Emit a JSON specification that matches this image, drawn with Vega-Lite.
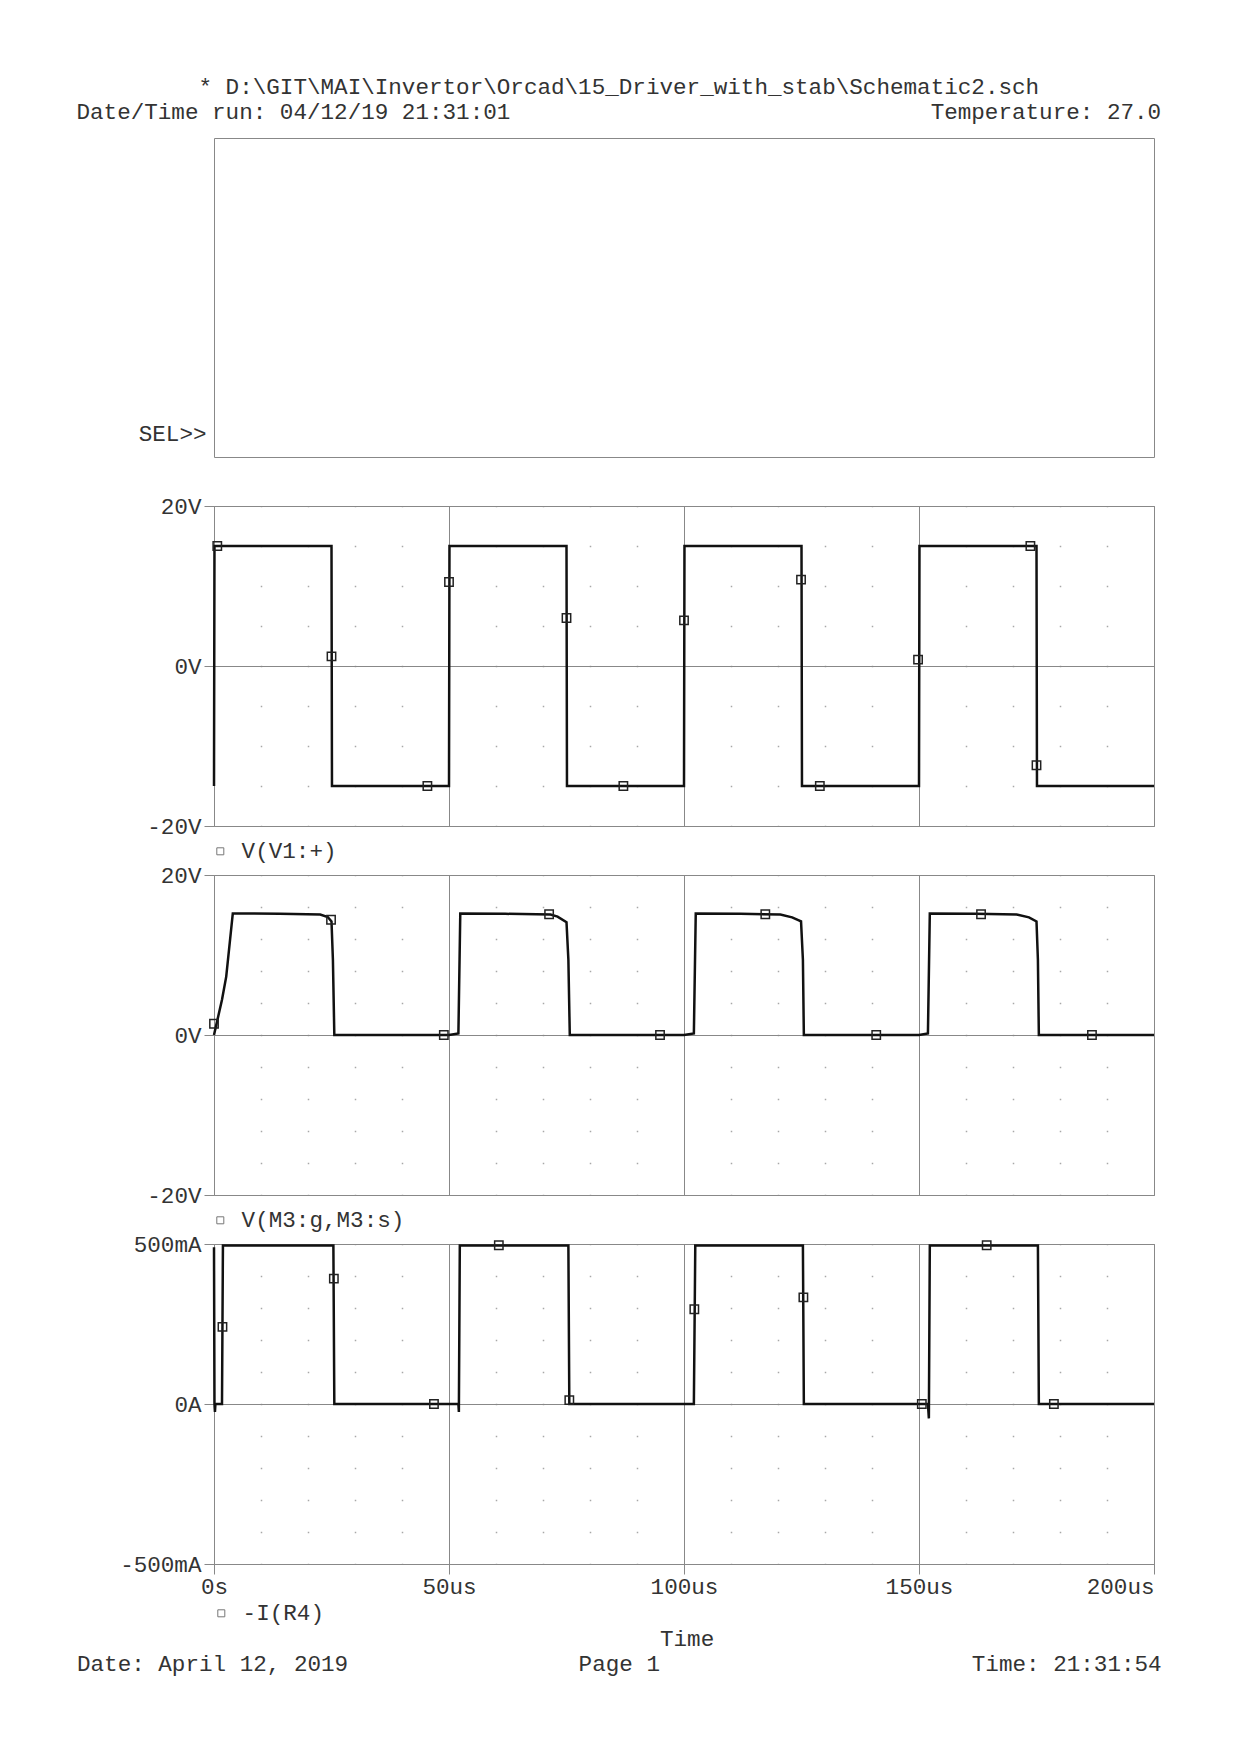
{
  "$schema": "https://vega.github.io/schema/vega-lite/v6.json",
  "background": "white",
  "padding": {"left": 75, "top": 75, "right": 40, "bottom": 40},
  "bounds": "flush",
  "spacing": 49,
  "title": {
    "text": [
      "* D:\\GIT\\MAI\\Invertor\\Orcad\\15_Driver_with_stab\\Schematic2.sch",
      "Date/Time run: 04/12/19 21:31:01\u00a0\u00a0\u00a0\u00a0\u00a0\u00a0\u00a0\u00a0\u00a0\u00a0\u00a0\u00a0\u00a0\u00a0\u00a0\u00a0\u00a0\u00a0\u00a0\u00a0\u00a0\u00a0\u00a0\u00a0\u00a0\u00a0\u00a0\u00a0\u00a0\u00a0\u00a0Temperature: 27.0"
    ],
    "anchor": "middle",
    "frame": "bounds",
    "offset": 14
  },
  "datasets": {
    "v1": [
      {"t": 0, "v": -15}, {"t": 0.1, "v": 15}, {"t": 25, "v": 15}, {"t": 25.1, "v": -15},
      {"t": 50, "v": -15}, {"t": 50.1, "v": 15}, {"t": 75, "v": 15}, {"t": 75.1, "v": -15},
      {"t": 100, "v": -15}, {"t": 100.1, "v": 15}, {"t": 125, "v": 15}, {"t": 125.1, "v": -15},
      {"t": 150, "v": -15}, {"t": 150.1, "v": 15}, {"t": 175, "v": 15}, {"t": 175.1, "v": -15},
      {"t": 200, "v": -15}
    ],
    "v1m": [
      {"signal": "V(V1:+)", "t": 0.7, "v": 15}, {"signal": "V(V1:+)", "t": 25, "v": 1.2},
      {"signal": "V(V1:+)", "t": 45.4, "v": -15}, {"signal": "V(V1:+)", "t": 50, "v": 10.5},
      {"signal": "V(V1:+)", "t": 75, "v": 6}, {"signal": "V(V1:+)", "t": 87.1, "v": -15},
      {"signal": "V(V1:+)", "t": 100, "v": 5.7}, {"signal": "V(V1:+)", "t": 124.9, "v": 10.8},
      {"signal": "V(V1:+)", "t": 128.9, "v": -15}, {"signal": "V(V1:+)", "t": 149.8, "v": 0.8},
      {"signal": "V(V1:+)", "t": 173.7, "v": 15}, {"signal": "V(V1:+)", "t": 175, "v": -12.4}
    ],
    "vgs": [
      {"t": 0, "v": 0}, {"t": 0.5, "v": 1.3}, {"t": 1.7, "v": 4.4}, {"t": 2.6, "v": 7.3}, {"t": 4, "v": 15.2},
      {"t": 14, "v": 15.15}, {"t": 22.6, "v": 15.05}, {"t": 24.2, "v": 14.75}, {"t": 25, "v": 14.2},
      {"t": 25.3, "v": 9.4}, {"t": 25.6, "v": 0}, {"t": 50, "v": 0}, {"t": 52, "v": 0.2},
      {"t": 52.4, "v": 15.2}, {"t": 62, "v": 15.15}, {"t": 71.6, "v": 15.05}, {"t": 73.1, "v": 14.8},
      {"t": 75, "v": 14.1}, {"t": 75.4, "v": 9.4}, {"t": 75.7, "v": 0}, {"t": 100, "v": 0},
      {"t": 102.1, "v": 0.2}, {"t": 102.5, "v": 15.2}, {"t": 112, "v": 15.15}, {"t": 120.5, "v": 15.05},
      {"t": 123, "v": 14.7}, {"t": 124.9, "v": 14.2}, {"t": 125.3, "v": 9.4}, {"t": 125.5, "v": 0},
      {"t": 150, "v": 0}, {"t": 151.9, "v": 0.2}, {"t": 152.3, "v": 15.2}, {"t": 162, "v": 15.15},
      {"t": 170.8, "v": 15.05}, {"t": 173.4, "v": 14.7}, {"t": 175, "v": 14.2}, {"t": 175.3, "v": 9.4},
      {"t": 175.5, "v": 0}, {"t": 200, "v": 0}
    ],
    "vgsm": [
      {"signal": "V(M3:g,M3:s)", "t": 0, "v": 1.4}, {"signal": "V(M3:g,M3:s)", "t": 24.9, "v": 14.4},
      {"signal": "V(M3:g,M3:s)", "t": 48.9, "v": 0}, {"signal": "V(M3:g,M3:s)", "t": 71.3, "v": 15.1},
      {"signal": "V(M3:g,M3:s)", "t": 94.9, "v": 0}, {"signal": "V(M3:g,M3:s)", "t": 117.3, "v": 15.1},
      {"signal": "V(M3:g,M3:s)", "t": 140.9, "v": 0}, {"signal": "V(M3:g,M3:s)", "t": 163.2, "v": 15.1},
      {"signal": "V(M3:g,M3:s)", "t": 186.8, "v": 0}
    ],
    "ir4": [
      {"t": 0, "v": 490}, {"t": 0.1, "v": 0}, {"t": 0.2, "v": -25}, {"t": 0.3, "v": 0}, {"t": 1.7, "v": 0},
      {"t": 1.9, "v": 495}, {"t": 25.4, "v": 495}, {"t": 25.6, "v": 0}, {"t": 52, "v": 0},
      {"t": 52.1, "v": -25}, {"t": 52.3, "v": 495}, {"t": 75.4, "v": 495}, {"t": 75.6, "v": 0},
      {"t": 102.1, "v": 0}, {"t": 102.4, "v": 495}, {"t": 125.3, "v": 495}, {"t": 125.5, "v": 0},
      {"t": 151.9, "v": 0}, {"t": 152.1, "v": -45}, {"t": 152.3, "v": 495}, {"t": 175.3, "v": 495},
      {"t": 175.5, "v": 0}, {"t": 200, "v": 0}
    ],
    "irm": [
      {"signal": "-I(R4)", "t": 1.8, "v": 241}, {"signal": "-I(R4)", "t": 25.5, "v": 392},
      {"signal": "-I(R4)", "t": 46.8, "v": 0}, {"signal": "-I(R4)", "t": 60.6, "v": 496},
      {"signal": "-I(R4)", "t": 75.6, "v": 12}, {"signal": "-I(R4)", "t": 102.2, "v": 296},
      {"signal": "-I(R4)", "t": 125.4, "v": 333}, {"signal": "-I(R4)", "t": 150.6, "v": 0},
      {"signal": "-I(R4)", "t": 164.4, "v": 496}, {"signal": "-I(R4)", "t": 178.7, "v": 0}
    ]
  },
  "resolve": {"scale": {"shape": "independent"}, "legend": {"shape": "independent"}},
  "vconcat": [
    {
      "width": 940,
      "height": 319,
      "data": {"values": []},
      "mark": {"type": "point", "opacity": 0},
      "encoding": {
        "x": {"field": "t", "type": "quantitative", "scale": {"domain": [0, 200], "nice": false}, "axis": null},
        "y": {"field": "v", "type": "quantitative", "scale": {"domain": [0, 1], "nice": false, "zero": false},
          "axis": {"values": [0.075], "labelExpr": "'SEL>>'", "ticks": false, "tickSize": 0, "grid": false, "labelPadding": 8, "title": null}}
      }
    },
    {
      "width": 940,
      "height": 320,
      "encoding": {
        "x": {"field": "t", "type": "quantitative", "scale": {"domain": [0, 200], "nice": false},
          "axis": {
            "values": [0, 10, 20, 30, 40, 50, 60, 70, 80, 90, 100, 110, 120, 130, 140, 150, 160, 170, 180, 190, 200],
            "labels": false, "ticks": false, "title": null, "grid": true,
            "gridColor": {"condition": {"test": "datum.value % 50 === 0", "value": "#888888"}, "value": "#a8a8a8"},
            "gridDash": {"condition": {"test": "datum.value % 50 === 0", "value": []}, "value": [1.5, 38.5]},
            "gridWidth": {"condition": {"test": "datum.value % 50 === 0", "value": 1}, "value": 1.5},
            "gridDashOffset": 0.75
          }},
        "y": {"field": "v", "type": "quantitative", "scale": {"domain": [-20, 20], "nice": false, "zero": false},
          "axis": {"values": [-20, 0, 20], "tickSize": 10, "labelPadding": 3, "labelExpr": "datum.value + 'V'", "title": null, "grid": true}}
      },
      "layer": [
        {"data": {"name": "v1"}, "mark": {"type": "line", "color": "#111111", "strokeWidth": 2.5}},
        {"data": {"name": "v1m"}, "mark": {"type": "point", "filled": false, "size": 70, "color": "#222222", "strokeWidth": 1.5, "opacity": 1},
          "encoding": {"shape": {"field": "signal", "type": "nominal", "scale": {"range": ["square"]},
            "legend": {"orient": "none", "legendX": -5, "legendY": 334, "title": null}}}}
      ]
    },
    {
      "width": 940,
      "height": 320,
      "encoding": {
        "x": {"field": "t", "type": "quantitative", "scale": {"domain": [0, 200], "nice": false},
          "axis": {
            "values": [0, 10, 20, 30, 40, 50, 60, 70, 80, 90, 100, 110, 120, 130, 140, 150, 160, 170, 180, 190, 200],
            "labels": false, "ticks": false, "title": null, "grid": true,
            "gridColor": {"condition": {"test": "datum.value % 50 === 0", "value": "#888888"}, "value": "#a8a8a8"},
            "gridDash": {"condition": {"test": "datum.value % 50 === 0", "value": []}, "value": [1.5, 30.5]},
            "gridWidth": {"condition": {"test": "datum.value % 50 === 0", "value": 1}, "value": 1.5},
            "gridDashOffset": 0.75
          }},
        "y": {"field": "v", "type": "quantitative", "scale": {"domain": [-20, 20], "nice": false, "zero": false},
          "axis": {"values": [-20, 0, 20], "tickSize": 10, "labelPadding": 3, "labelExpr": "datum.value + 'V'", "title": null, "grid": true}}
      },
      "layer": [
        {"data": {"name": "vgs"}, "mark": {"type": "line", "color": "#111111", "strokeWidth": 2.5}},
        {"data": {"name": "vgsm"}, "mark": {"type": "point", "filled": false, "size": 70, "color": "#222222", "strokeWidth": 1.5, "opacity": 1},
          "encoding": {"shape": {"field": "signal", "type": "nominal", "scale": {"range": ["square"]},
            "legend": {"orient": "none", "legendX": -5, "legendY": 334, "title": null}}}}
      ]
    },
    {
      "width": 940,
      "height": 320,
      "encoding": {
        "x": {"field": "t", "type": "quantitative", "scale": {"domain": [0, 200], "nice": false},
          "axis": {
            "values": [0, 10, 20, 30, 40, 50, 60, 70, 80, 90, 100, 110, 120, 130, 140, 150, 160, 170, 180, 190, 200],
            "labelExpr": "datum.value % 50 !== 0 ? '' : (datum.value === 0 ? '0s' : datum.value + 'us')",
            "labelAlign": {"condition": {"test": "datum.value === 200", "value": "right"}, "value": "center"},
            "labelFlush": false, "labelOverlap": false, "labelPadding": 1.5,
            "ticks": true, "tickSize": 10,
            "tickOpacity": {"condition": {"test": "datum.value % 50 === 0", "value": 1}, "value": 0},
            "grid": true,
            "gridColor": {"condition": {"test": "datum.value % 50 === 0", "value": "#888888"}, "value": "#a8a8a8"},
            "gridDash": {"condition": {"test": "datum.value % 50 === 0", "value": []}, "value": [1.5, 30.5]},
            "gridWidth": {"condition": {"test": "datum.value % 50 === 0", "value": 1}, "value": 1.5},
            "gridDashOffset": 0.75,
            "title": [
              "\u200b\u00a0\u00a0\u00a0\u00a0\u00a0\u00a0\u00a0\u00a0\u00a0\u00a0Time",
              "Date: April 12, 2019\u00a0\u00a0\u00a0\u00a0\u00a0\u00a0\u00a0\u00a0\u00a0\u00a0\u00a0\u00a0\u00a0\u00a0\u00a0\u00a0\u00a0Page 1\u00a0\u00a0\u00a0\u00a0\u00a0\u00a0\u00a0\u00a0\u00a0\u00a0\u00a0\u00a0\u00a0\u00a0\u00a0\u00a0\u00a0\u00a0\u00a0\u00a0\u00a0\u00a0\u00a0Time: 21:31:54"
            ],
            "titleX": 404.8, "titleAlign": "center", "titlePadding": 29, "titleLineHeight": 25.6
          }},
        "y": {"field": "v", "type": "quantitative", "scale": {"domain": [-500, 500], "nice": false, "zero": false},
          "axis": {"values": [-500, 0, 500], "tickSize": 10, "labelPadding": 3, "labelExpr": "datum.value === 0 ? '0A' : datum.value + 'mA'", "title": null, "grid": true}}
      },
      "layer": [
        {"data": {"name": "ir4"}, "mark": {"type": "line", "color": "#111111", "strokeWidth": 2.5}},
        {"data": {"name": "irm"}, "mark": {"type": "point", "filled": false, "size": 70, "color": "#222222", "strokeWidth": 1.5, "opacity": 1},
          "encoding": {"shape": {"field": "signal", "type": "nominal", "scale": {"range": ["square"]},
            "legend": {"orient": "none", "legendX": -4, "legendY": 358, "title": null}}}}
      ]
    }
  ],
  "config": {
    "font": "Liberation Mono",
    "view": {"stroke": "#888888", "strokeWidth": 1},
    "axis": {
      "labelFont": "Liberation Mono", "labelFontSize": 22.6, "labelColor": "#333333",
      "titleFont": "Liberation Mono", "titleFontSize": 22.6, "titleFontWeight": "normal", "titleColor": "#333333",
      "tickColor": "#888888", "tickWidth": 1, "domain": false, "gridColor": "#888888", "gridWidth": 1
    },
    "title": {"font": "Liberation Mono", "fontSize": 22.6, "fontWeight": "normal", "color": "#333333", "lineHeight": 25},
    "legend": {
      "padding": 0, "symbolType": "square", "symbolSize": 49, "symbolStrokeColor": "#777777",
      "symbolStrokeWidth": 1, "symbolFillColor": "transparent", "labelLimit": 500,
      "labelFont": "Liberation Mono", "labelFontSize": 22.6, "labelColor": "#333333", "labelOffset": 10
    }
  }
}
